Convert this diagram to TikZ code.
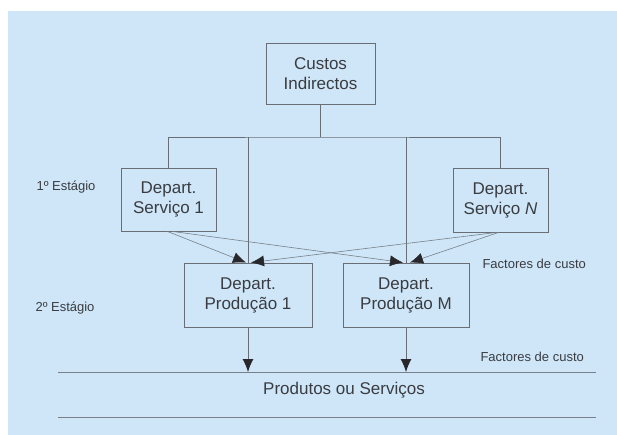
\documentclass[tikz,border=0pt]{standalone}
\usepackage{fontspec}
\setmainfont{Liberation Sans}
\usepackage{tikz}
\usetikzlibrary{positioning, arrows.meta, calc}

\definecolor{bgblue}{RGB}{206,230,247}
\definecolor{inkgray}{RGB}{58,60,66}
\definecolor{linegray}{RGB}{105,110,118}
\definecolor{diaggray}{RGB}{120,128,138}
\definecolor{tipblack}{RGB}{40,40,44}

\tikzset{
  deptbox/.style={draw=linegray, line width=0.9pt, align=center, text=inkgray,
    font=\fontsize{17}{20}\selectfont, inner sep=0pt},
  stagelbl/.style={text=inkgray, anchor=west, font=\fontsize{13}{15}\selectfont},
  tree/.style={draw=linegray, line width=0.9pt},
  diag/.style={draw=diaggray, line width=0.6pt, -{Latex[length=13pt, width=11pt, color=tipblack]}},
  feed/.style={draw=linegray, line width=0.9pt, -{Latex[length=13pt, width=11pt, color=tipblack]}},
  rail/.style={draw=diaggray, line width=0.8pt}
}

\begin{document}
\begin{tikzpicture}[x=1pt, y=-1pt]
        \useasboundingbox (0,0) rectangle (617,435);
        % Backdrop
        \fill[bgblue] (8,11) rectangle (617,435);
        % Boxes
        \node[deptbox, minimum width=109, minimum height=61] (ci) at (320.5,73.5) {Custos\\Indirectos};
        \node[deptbox, minimum width=95, minimum height=63] (s1) at (168.5,199.5) {Depart.\\Serviço 1};
        \node[deptbox, minimum width=95, minimum height=64] (sN) at (500.5,200) {Depart.\\Serviço \textit{N}};
        \node[deptbox, minimum width=128, minimum height=64] (p1) at (248,295) {Depart.\\Produção 1};
        \node[deptbox, minimum width=126, minimum height=64] (pM) at (406,295) {Depart.\\Produção M};
        % Distribution bus under the top box
        \coordinate (bus) at (320,137);
        \draw[tree] (ci.south) -- (ci.south |- bus);
        \draw[tree] (s1.north) |- (bus) -| (sN.north);
        \draw[tree] (p1.north |- bus) -- (p1.north);
        \draw[tree] (pM.north |- bus) -- (pM.north);
        % Cost factors from service to production
        \draw[diag] ([xshift=-1]s1.south) -- ([xshift=-2]p1.north);
        \draw[diag] ([xshift=4]s1.south) -- ([xshift=-3]pM.north);
        \draw[diag] ([xshift=-4]sN.south) -- ([xshift=3]p1.north);
        \draw[diag] ([xshift=-2]sN.south) -- ([xshift=4]pM.north);
        % Output rails
        \coordinate (railL) at (58,372);
        \coordinate (railR) at (596,372);
        \coordinate (floorL) at (58,417);
        \coordinate (floorR) at (596,417);
        \draw[rail] (railL) -- (railR);
        \draw[rail] (floorL) -- (floorR);
        \draw[feed] (p1.south) -- (p1.south |- railL);
        \draw[feed] (pM.south) -- (pM.south |- railL);
        \node[text=inkgray, font=\fontsize{17}{20}\selectfont] (out) at (344,390) {Produtos ou Serviços};
        % Side labels
        \node[stagelbl] (st1) at (33,187) {1º Estágio};
        \node[stagelbl] (st2) at (32,308) {2º Estágio};
        \node[stagelbl] (fc1) at (479,264) {Factores de custo};
        \node[stagelbl] (fc2) at (477,357) {Factores de custo};
\end{tikzpicture}
\end{document}
